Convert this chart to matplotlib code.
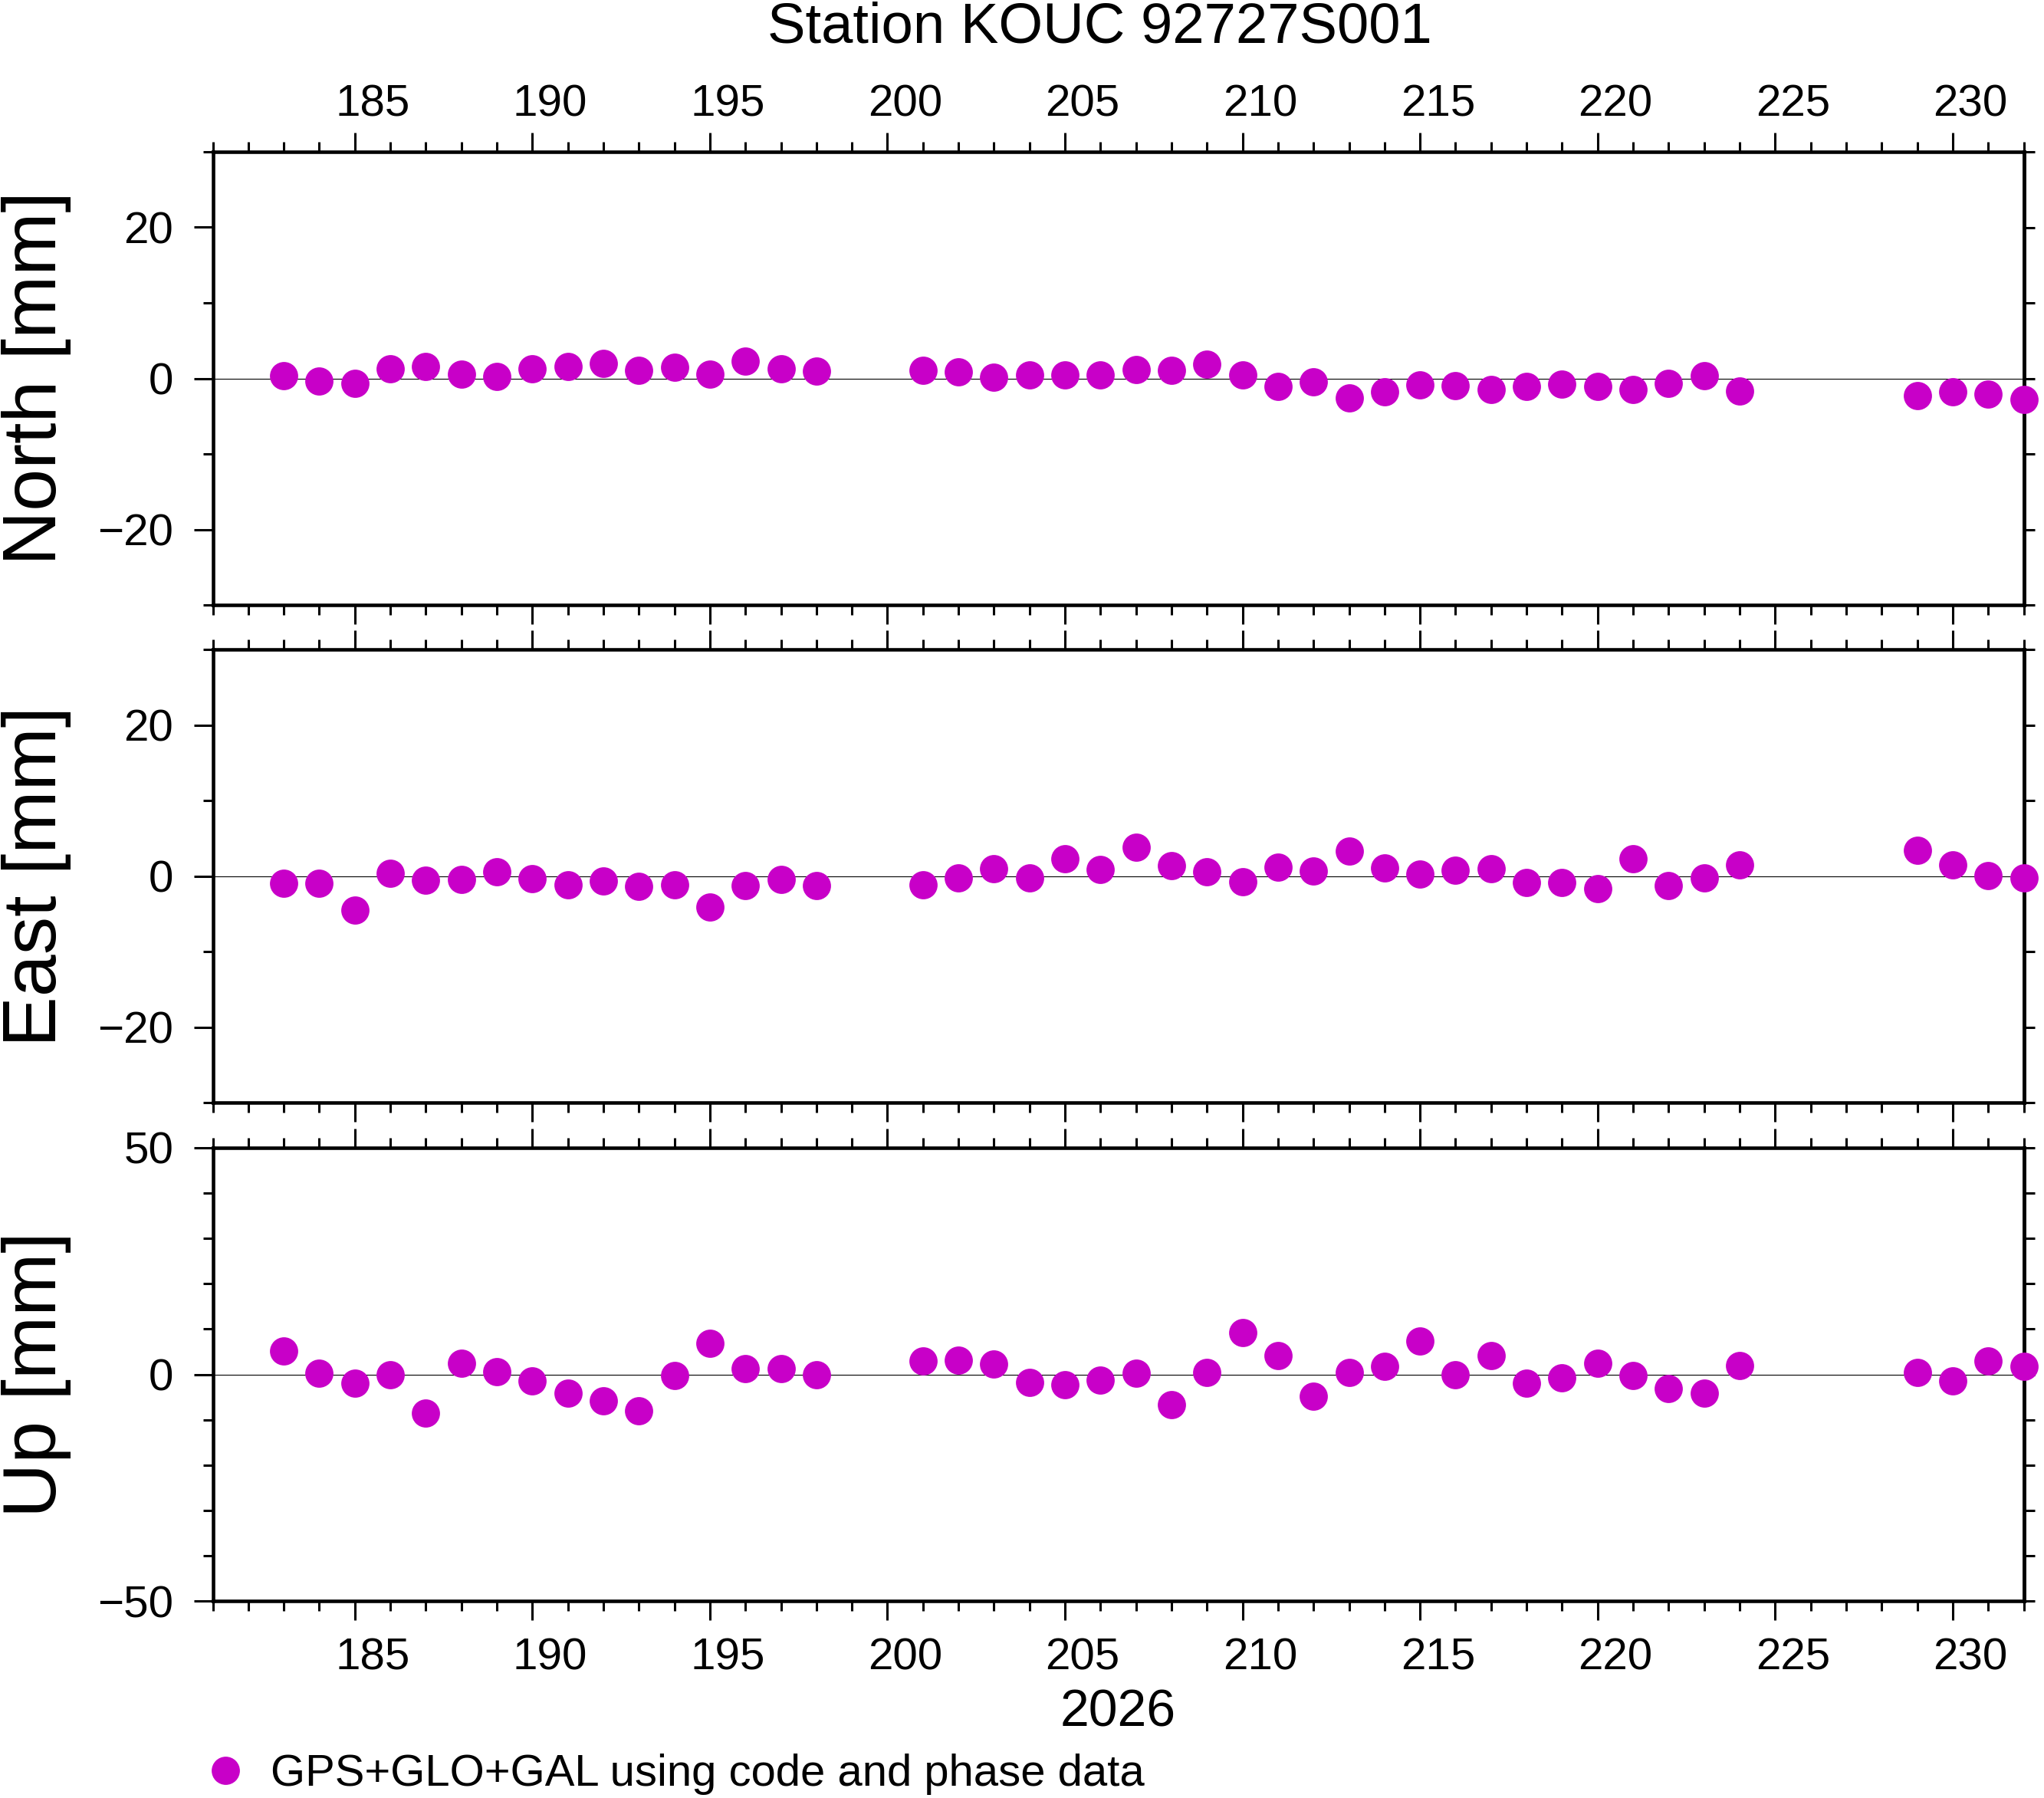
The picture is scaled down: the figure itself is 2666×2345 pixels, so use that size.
import matplotlib
matplotlib.use("Agg")
import matplotlib.pyplot as plt
import numpy as np

plt.rcParams['font.family'] = ['Liberation Sans', 'DejaVu Sans']

# ---------------- data ----------------
days = list(range(183, 199)) + list(range(201, 225)) + list(range(229, 233))
north = [0.4, -0.4, -0.7, 1.3, 1.6, 0.6, 0.3, 1.3, 1.6, 2.0, 1.1, 1.5, 0.6, 2.3, 1.3, 1.0,
         1.1, 0.9, 0.2, 0.5, 0.5, 0.5, 1.15, 1.05, 1.9, 0.45, -1.05, -0.5, -2.6, -1.75,
         -0.85, -0.95, -1.45, -1.05, -0.75, -1.05, -1.45, -0.65, 0.35, -1.65,
         -2.25, -1.75, -2.05, -2.75]
east = [-1.0, -1.0, -4.5, 0.4, -0.6, -0.5, 0.6, -0.4, -1.2, -0.7, -1.4, -1.2, -4.1, -1.3, -0.5, -1.3,
        -1.2, -0.3, 1.0, -0.3, 2.3, 0.9, 3.8, 1.4, 0.6, -0.8, 1.2, 0.7, 3.3, 1.1,
        0.3, 0.8, 1.0, -0.9, -0.9, -1.7, 2.3, -1.3, -0.3, 1.5,
        3.4, 1.5, 0.1, -0.3]
up = [5.1, 0.2, -1.9, 0.0, -8.6, 2.4, 0.6, -1.5, -4.1, -5.9, -8.1, -0.3, 6.8, 1.2, 1.2, 0.0,
      2.9, 3.1, 2.2, -1.7, -2.2, -1.2, 0.2, -6.6, 0.5, 9.2, 4.1, -4.9, 0.5, 1.7,
      7.3, 0.0, 4.1, -1.9, -0.7, 2.4, -0.3, -3.1, -4.1, 1.9,
      0.5, -1.4, 2.9, 1.7]

panel_names = ["North [mm]", "East [mm]", "Up [mm]"]
panel_data = [north, east, up]
panel_ylim = [(-30, 30), (-30, 30), (-50, 50)]
panel_major = [[-20, 0, 20], [-20, 0, 20], [-50, 0, 50]]
x_range = (181, 232)
x_major = list(range(185, 231, 5))
x_minor = list(range(181, 233))
x_labels = [str(d) for d in x_major]
title = "Station KOUC 92727S001"
year_label = "2026"
legend_label = "GPS+GLO+GAL using code and phase data"
color = "#c800c8"

# ---------------- figure ----------------
W, H = 2666, 2345
fig = plt.figure(figsize=(W / 100, H / 100), dpi=100)

left_px, right_px = 277.5, 2639.5
panels_px = [(198, 789), (847, 1438), (1497, 2088)]

spine_lw = 3.3
tick_w = 2.2
maj_len = 18
min_len = 9.4
tick_fs = 42

axes = []
for i, (top, bot) in enumerate(panels_px):
    ax = fig.add_axes([left_px / W, 1 - bot / H, (right_px - left_px) / W, (bot - top) / H])
    axes.append(ax)
    ax.set_xlim(*x_range)
    ax.set_ylim(*panel_ylim[i])
    ax.axhline(0, color='black', lw=0.8, zorder=1)
    line, = ax.plot(days, panel_data[i], 'o', color=color, ms=26.5, mew=0,
                    zorder=5, clip_on=False, label=legend_label)
    for sp in ax.spines.values():
        sp.set_linewidth(spine_lw)
        sp.set_capstyle('projecting')
    # x ticks (marks only)
    ax.set_xticks(x_major)
    ax.set_xticks(x_minor, minor=True)
    ax.tick_params(axis='x', which='both', top=True, bottom=True, direction='out',
                   labelbottom=False, labeltop=False, width=tick_w)
    ax.tick_params(axis='x', which='major', length=maj_len)
    ax.tick_params(axis='x', which='minor', length=min_len)
    # y ticks
    lo, hi = panel_ylim[i]
    ax.set_yticks(panel_major[i])
    ax.set_yticks([v for v in range(lo, hi + 1, 10) if v not in panel_major[i]], minor=True)
    ax.tick_params(axis='y', which='both', left=True, right=False, direction='out',
                   width=tick_w, labelsize=tick_fs, pad=19)
    ax.tick_params(axis='y', which='major', length=maj_len)
    ax.tick_params(axis='y', which='minor', length=min_len)
    ax.set_ylabel(panel_names[i], fontsize=71)
    ax.yaxis.set_label_coords((93 - left_px) / (right_px - left_px), 0.5)
    # right-side short ticks
    sec = ax.secondary_yaxis('right')
    sec.set_yticks(list(range(lo, hi + 1, 10)))
    sec.tick_params(axis='y', direction='out', length=10, width=tick_w, labelright=False)
    sec.spines['right'].set_linewidth(spine_lw)
    sec.spines['right'].set_capstyle('projecting')
    handle = line

# day labels centred on the day interval
label_pos = [d + 0.5 for d in x_major]
top_sec = axes[0].secondary_xaxis('top')
top_sec.set_xticks(label_pos, x_labels)
top_sec.tick_params(length=0, labelsize=tick_fs, pad=25)
top_sec.spines['top'].set_visible(False)
bot_sec = axes[2].secondary_xaxis('bottom')
bot_sec.set_xticks(label_pos, x_labels)
bot_sec.tick_params(length=0, labelsize=tick_fs, pad=34)
bot_sec.spines['bottom'].set_visible(False)

fig.text(1434.5 / W, 1 - 55 / H, title, ha='center', va='baseline', fontsize=53.5)
fig.text((left_px + right_px) / 2 / W, 1 - 2252 / H, year_label, ha='center',
         va='baseline', fontsize=49)

fig.legend(handles=[handle], labels=[legend_label], loc='center left',
           bbox_to_anchor=(265 / W, 1 - 2314 / H), frameon=False, fontsize=41.8,
           handlelength=1.0, handletextpad=0.52, borderpad=0, borderaxespad=0)

fig.savefig("out.png", dpi=100)
